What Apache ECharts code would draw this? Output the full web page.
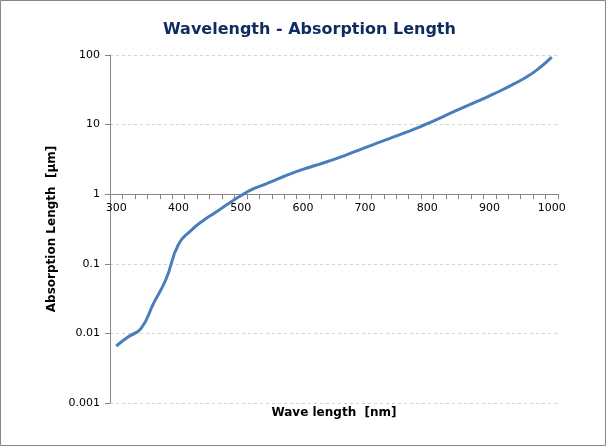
<!DOCTYPE html>
<html>
<head>
<meta charset="utf-8">
<script src="https://cdn.jsdelivr.net/npm/echarts@6/dist/echarts.min.js"></script>
<style>
html,body{margin:0;padding:0;background:#fff;}
#chart{width:607px;height:447px;}
</style>
</head>
<body>
<div id="chart"></div>
<script>
// Wavelength categories (nm), one every 20 nm
const wavelengths = [300,320,340,360,380,400,420,440,460,480,500,520,540,560,580,600,620,640,660,680,700,720,740,760,780,800,820,840,860,880,900,920,940,960,980,1000];
// Absorption length (µm)
const absorptionLength = [0.0066,0.0090,0.0118,0.027,0.060,0.19,0.30,0.42,0.55,0.73,0.95,1.19,1.40,1.66,1.96,2.27,2.58,2.95,3.40,3.98,4.66,5.45,6.35,7.40,8.70,10.3,12.4,15.0,18.0,21.6,25.9,31.4,38.8,48.6,65,93];
const yTickLabels = ['0.001','0.01','0.1','1','10','100'];
const xLabelEvery = 5;

const chart = echarts.init(document.getElementById('chart'));
const font = 'DejaVu Sans';
const yMin = Number(yTickLabels[0]);
const yMax = Number(yTickLabels[yTickLabels.length-1]);
const gridTop = 55, gridBottom = 44;
const plotH = 447 - gridTop - gridBottom;
const oneOffset = -plotH * (Math.log10(1) - Math.log10(yMin)) / (Math.log10(yMax) - Math.log10(yMin));

chart.setOption({
  animation: false,
  backgroundColor: '#ffffff',
  title: {
    text: 'Wavelength - Absorption Length',
    left: 158,
    top: 17,
    textStyle: {fontFamily: font, fontSize: 16, fontWeight: 'bold', color: '#0F2B5F'}
  },
  graphic: [{
    type: 'rect',
    shape: {x: 0.5, y: 0.5, width: 605, height: 445},
    style: {fill: 'none', stroke: '#868686', lineWidth: 1},
    silent: true
  }],
  grid: {left: 110, right: 49, top: gridTop, bottom: gridBottom, containLabel: false},
  xAxis: [{
    type: 'category',
    data: wavelengths,
    boundaryGap: true,
    position: 'bottom',
    offset: oneOffset,
    axisLine: {onZero: false, lineStyle: {color: '#868686', width: 1}},
    axisTick: {show: true, interval: 0, length: 5, lineStyle: {color: '#868686'}},
    axisLabel: {
      interval: xLabelEvery - 1,
      margin: 8,
      fontFamily: font, fontSize: 11, color: '#000'
    },
    splitLine: {show: false}
  }, {
    type: 'category',
    data: wavelengths,
    position: 'bottom',
    boundaryGap: true,
    axisLine: {show: false},
    axisTick: {show: false},
    axisLabel: {show: false},
    name: 'Wave length  [nm]',
    nameLocation: 'middle',
    nameGap: 10,
    nameTextStyle: {fontFamily: font, fontSize: 12, fontWeight: 'bold', color: '#000', verticalAlign: 'middle'}
  }],
  yAxis: {
    type: 'log',
    logBase: 10,
    min: yMin,
    max: yMax,
    name: 'Absorption Length  [μm]',
    nameLocation: 'middle',
    nameGap: 46,
    nameTextStyle: {fontFamily: font, fontSize: 12, fontWeight: 'bold', color: '#000'},
    axisLine: {show: true, lineStyle: {color: '#868686', width: 1}},
    axisTick: {show: true, length: 5, lineStyle: {color: '#868686'}},
    axisLabel: {
      fontFamily: font, fontSize: 11, color: '#000', margin: 10,
      formatter: function (v) {
        const i = Math.round(Math.log10(v) - Math.log10(yMin));
        return yTickLabels[i] !== undefined ? yTickLabels[i] : '';
      }
    },
    splitLine: {show: true, lineStyle: {color: '#D3D3D3', type: [3, 3], width: 1}},
    minorTick: {show: false}
  },
  series: [{
    type: 'line',
    data: absorptionLength,
    xAxisIndex: 0,
    smooth: 0.5,
    symbol: 'none',
    lineStyle: {color: '#4A7EBB', width: 3},
    z: 5
  }]
});
</script>
</body>
</html>
